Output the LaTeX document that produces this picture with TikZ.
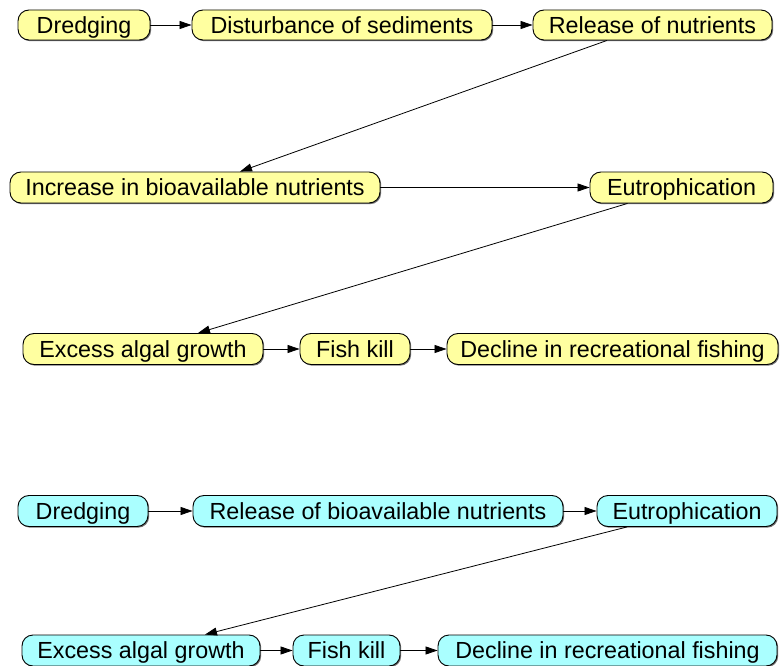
\documentclass[tikz,border=0pt]{standalone}
\usepackage{fontspec}
\setmainfont{Liberation Sans}
\usetikzlibrary{arrows.meta,shadows}
\definecolor{ylw}{RGB}{255,255,160}
\definecolor{cyn}{RGB}{170,255,255}
\tikzset{
  pill/.style={draw=black, line width=0.9pt, rounded corners=11pt, inner sep=0pt,
    minimum height=31pt, text height=16.5pt, text depth=0pt,
    font=\fontsize{23.3}{26}\selectfont,
    drop shadow={shadow xshift=1.2pt, shadow yshift=-1.2pt, fill=black!55, opacity=1}},
  yl/.style={pill, fill=ylw},
  cy/.style={pill, fill=cyn},
  arr/.style={draw=black, line width=0.8pt, -{Triangle[length=12pt,width=8pt]}}
}
\begin{document}
\begin{tikzpicture}[x=1pt,y=-1pt]
\useasboundingbox (0,0) rectangle (780,666);
% first chain
\node[yl, minimum width=132pt, minimum height=30pt] (n1) at (84,25) {Dredging};
\node[yl, minimum width=300pt, minimum height=30pt] (n2) at (342,25) {Disturbance of sediments};
\node[yl, minimum width=239pt, minimum height=30pt] (n3) at (652.5,25) {Release of nutrients};
\node[yl, minimum width=370pt] (n4) at (195,187.5) {Increase in bioavailable nutrients};
\node[yl, minimum width=183pt] (n5) at (681.5,187.5) {Eutrophication};
\node[yl, minimum width=240pt] (n6) at (143,349) {Excess algal growth};
\node[yl, minimum width=110pt] (n7) at (355,349) {Fish kill};
\node[yl, minimum width=331pt] (n8) at (612.5,349) {Decline in recreational fishing};
% second chain
\node[cy, minimum width=130pt] (m1) at (83,511) {Dredging};
\node[cy, minimum width=370pt] (m2) at (378,511) {Release of bioavailable nutrients};
\node[cy, minimum width=180pt] (m3) at (687,511) {Eutrophication};
\node[cy, minimum width=238pt] (m4) at (141,650.5) {Excess algal growth};
\node[cy, minimum width=107pt] (m5) at (346.5,650.5) {Fish kill};
\node[cy, minimum width=339pt] (m6) at (607.5,650.5) {Decline in recreational fishing};
% connectors
\draw[arr] (n1) -- (n2);
\draw[arr] (n2) -- (n3);
\draw[arr] ([xshift=-45.5pt]n3.south) -- ([xshift=45pt]n4.north);
\draw[arr] (n4) -- (n5);
\draw[arr] ([xshift=-54pt]n5.south) -- ([xshift=55pt]n6.north);
\draw[arr] (n6) -- (n7);
\draw[arr] (n7) -- (n8);
\draw[arr] (m1) -- (m2);
\draw[arr] (m2) -- (m3);
\draw[arr] ([xshift=-60pt]m3.south) -- ([xshift=64pt]m4.north);
\draw[arr] (m4) -- (m5);
\draw[arr] (m5) -- (m6);
\end{tikzpicture}
\end{document}
